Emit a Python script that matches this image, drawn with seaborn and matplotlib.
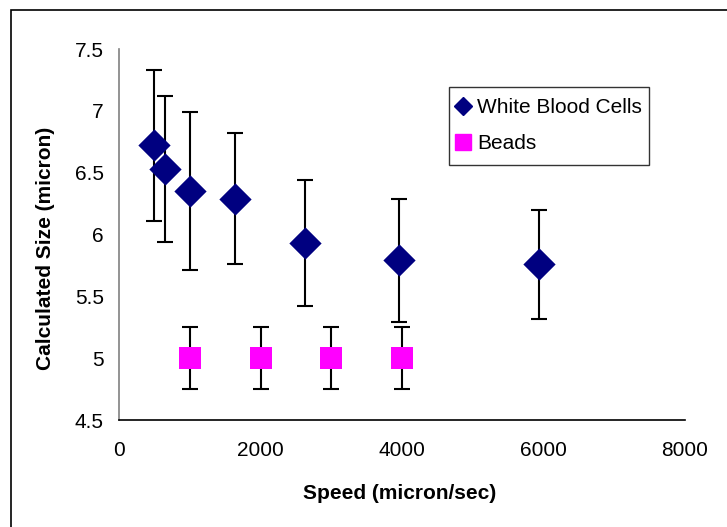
import pandas as pd
import matplotlib.pyplot as plt
import seaborn as sns
from matplotlib.lines import Line2D
from matplotlib.patches import Rectangle

# White blood cells
wbc_speed = [500, 650, 1000, 1640, 2630, 3960, 5940]
wbc_size = [6.72, 6.53, 6.35, 6.29, 5.93, 5.79, 5.76]
wbc_err = [0.61, 0.59, 0.64, 0.53, 0.51, 0.50, 0.44]

# Beads
bead_speed = [1000, 2000, 3000, 4000]
bead_size = [5.0, 5.0, 5.0, 5.0]
bead_err = [0.25, 0.25, 0.25, 0.25]

x_ticks = [0, 2000, 4000, 6000, 8000]
y_ticks = [4.5, 5, 5.5, 6, 6.5, 7, 7.5]

sns.set_style("white")
plt.rcParams['font.family'] = ['Liberation Sans', 'DejaVu Sans']
plt.rcParams['text.color'] = 'black'
plt.rcParams['axes.labelcolor'] = 'black'

df = pd.DataFrame({
    'speed': wbc_speed + bead_speed,
    'size': wbc_size + bead_size,
    'err': wbc_err + bead_err,
    'kind': ['White Blood Cells'] * len(wbc_speed) + ['Beads'] * len(bead_speed),
})

fig = plt.figure(figsize=(7.27, 5.27), dpi=100)
ax = fig.add_axes([0.1637, 0.2030, 0.7785, 0.7040])

# figure border (Excel chart area)
fig.patches.append(Rectangle((11 / 727, -0.1), 1.2, 1 - 10 / 527 + 0.1,
                             transform=fig.transFigure, fill=False,
                             edgecolor='black', linewidth=1.2))

ax.errorbar(df['speed'], df['size'], yerr=df['err'], fmt='none',
            ecolor='black', elinewidth=1.5, capsize=5.5, capthick=1.5, zorder=1)

palette = {'White Blood Cells': '#000080', 'Beads': '#FF00FF'}
markers = {'White Blood Cells': 'D', 'Beads': 's'}
sizes = {'White Blood Cells': 270, 'Beads': 260}
for kind, grp in df.groupby('kind', sort=False):
    sns.scatterplot(data=grp, x='speed', y='size', marker=markers[kind],
                    color=palette[kind], s=sizes[kind],
                    linewidth=0, ax=ax, zorder=2, legend=False)

ax.set_xlim(0, 8000)
ax.set_ylim(4.5, 7.5)
ax.set_xticks(x_ticks)
ax.set_yticks(y_ticks)
ax.set_yticklabels([f'{v:g}' for v in y_ticks])
ax.tick_params(axis='both', labelsize=15, length=5, width=1, direction='out',
               color='#808080', labelcolor='black')
ax.tick_params(axis='x', pad=10)
ax.tick_params(axis='y', pad=6)

for side in ['top', 'right']:
    ax.spines[side].set_visible(False)
ax.spines['left'].set_color('#808080')
ax.spines['bottom'].set_color('black')
ax.spines['left'].set_linewidth(1.2)
ax.spines['bottom'].set_linewidth(1.2)

ax.set_xlabel('Speed (micron/sec)', fontsize=15, fontweight='bold', va='center')
ax.xaxis.set_label_coords(0.4965, -0.197)
ax.set_ylabel('Calculated Size (micron)', fontsize=15, fontweight='bold', va='center')
ax.yaxis.set_label_coords(-0.1307, 0.4636)

handles = [
    Line2D([], [], marker='D', color='#000080', linestyle='none', markersize=9),
    Line2D([], [], marker='s', color='#FF00FF', linestyle='none', markersize=11),
]
leg = ax.legend(handles, ['White Blood Cells', 'Beads'], loc='upper left',
                bbox_to_anchor=(0.583, 0.8976, 0.353, 0.0), mode='expand',
                fontsize=15, frameon=True, fancybox=False, edgecolor='black',
                handlelength=0.25, handletextpad=0.55, labelspacing=0.8,
                borderpad=0.55, borderaxespad=0)
leg.get_frame().set_linewidth(1.0)

fig.savefig('out.png', dpi=100)
